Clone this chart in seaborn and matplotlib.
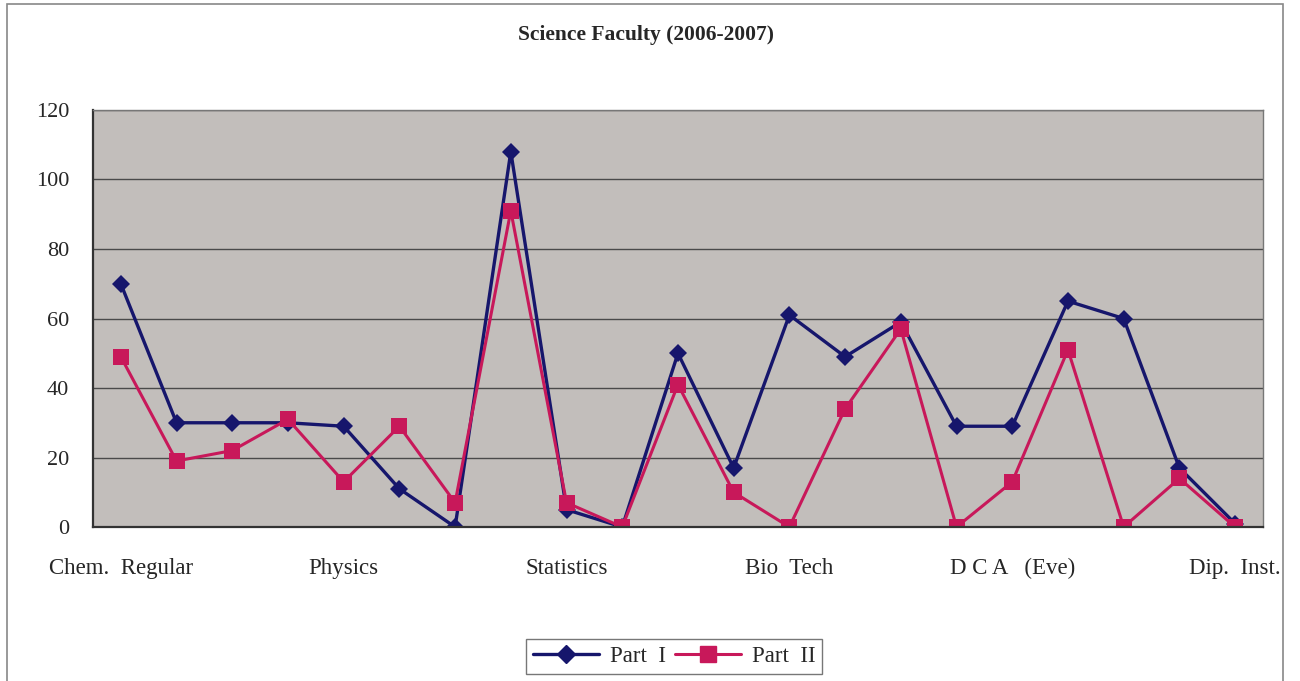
import seaborn as sns
import matplotlib.pyplot as plt
import numpy as np
import pandas as pd

# categories (only every 4th one is labelled on the axis)
categories = ['Chem.  Regular', '', '', '', 'Physics', '', '', '', 'Statistics', '', '', '',
              'Bio  Tech', '', '', '', 'D C A   (Eve)', '', '', '', 'Dip.  Inst.']
part_1 = [70, 30, 30, 30, 29, 11, 0, 108, 5, 0, 50, 17, 61, 49, 59, 29, 29, 65, 60, 17, 1]
part_2 = [49, 19, 22, 31, 13, 29, 7, 91, 7, 0, 41, 10, 0, 34, 57, 0, 13, 51, 0, 14, 0]
y_ticks = [0, 20, 40, 60, 80, 100, 120]

pos = np.arange(len(categories))
df = pd.DataFrame({'pos': np.concatenate([pos, pos]),
                   'value': part_1 + part_2,
                   'series': ['Part  I'] * len(pos) + ['Part  II'] * len(pos)})

sns.set_style('white')
plt.rcParams['font.family'] = ['Liberation Serif', 'DejaVu Serif']

c1, c2 = '#16166c', '#c8185a'

fig = plt.figure(figsize=(13, 6.81), dpi=100)
ax = fig.add_axes([0.0715, 0.2261, 0.9, 0.6124])
ax.set_facecolor('#c2bebb')

sns.lineplot(data=df[df.series == 'Part  I'], x='pos', y='value', color=c1, marker='D',
             markersize=9, linewidth=2.4, markeredgewidth=0, ax=ax, legend=False)
sns.lineplot(data=df[df.series == 'Part  II'], x='pos', y='value', color=c2, marker='s',
             markersize=11, linewidth=2.2, markeredgewidth=0, ax=ax, legend=False)

ax.set_xlim(-0.5, len(categories) - 0.5)
ax.set_ylim(0, 120)
ax.set_yticks(y_ticks)
ax.set_yticklabels([str(v) for v in y_ticks], fontsize=16)
ax.grid(axis='y', color='#4a4a4a', linewidth=1.0)
ax.set_axisbelow(True)

ax.set_xticks(pos)
ax.set_xticklabels(categories, fontsize=16.5)
ax.set_xticks(np.arange(-0.5, len(categories), 1), minor=True)
ax.tick_params(axis='x', which='major', length=0, pad=22)
ax.tick_params(axis='x', which='minor', length=6, color='#333333', direction='out')
ax.tick_params(axis='y', length=6, color='#333333', direction='out', pad=11)
ax.set_xlabel('')
ax.set_ylabel('')

for s in ['left', 'bottom']:
    ax.spines[s].set_color('#333333')
    ax.spines[s].set_linewidth(1.6)
for s in ['top', 'right']:
    ax.spines[s].set_color('#777777')
    ax.spines[s].set_linewidth(1.0)

fig.text(0.497, 0.948, 'Science Faculty (2006-2007)', ha='center', va='center',
         fontsize=15.5, fontweight='bold')

# legend
handles = [plt.Line2D([], [], color=c1, marker='D', markersize=9, linewidth=2.4),
           plt.Line2D([], [], color=c2, marker='s', markersize=11, linewidth=2.2)]
leg = fig.legend(handles, ['Part  I', 'Part  II'], loc='center', bbox_to_anchor=(0.5185, 0.0365),
                 ncol=2, fontsize=16.5, frameon=True, fancybox=False, handlelength=2.9,
                 columnspacing=0.4, handletextpad=0.45, borderpad=0.3)
leg.get_frame().set_edgecolor('#555555')
leg.get_frame().set_linewidth(1.0)

# outer chart border
fig.patches.append(plt.Rectangle((0.0054, -0.01), 0.9816, 1.004, transform=fig.transFigure,
                                 fill=False, edgecolor='#888888', linewidth=1.2))

fig.savefig('out.png', dpi=100)
